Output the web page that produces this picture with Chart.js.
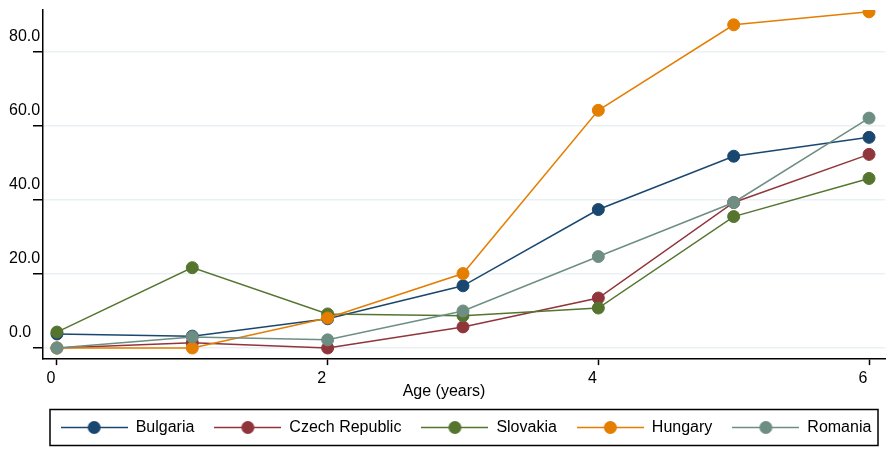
<!DOCTYPE html>
<html>
<head>
<meta charset="utf-8">
<script src="https://cdn.jsdelivr.net/npm/chart.js@4/dist/chart.umd.min.js"></script>
<style>
  html, body { margin: 0; padding: 0; background: #fff; }
  #wrap { width: 896px; height: 468px; }
</style>
</head>
<body>
<div id="wrap"><canvas id="chart" width="896" height="468"></canvas></div>
<script>
const ages = [0, 1, 2, 3, 4, 5, 6];
const countries = ['Bulgaria', 'Czech Republic', 'Slovakia', 'Hungary', 'Romania'];
const colors = ['#1a476f', '#90353b', '#55752f', '#e37e00', '#6e8e84'];

const bulgaria = [3.8, 3.2, 7.9, 16.8, 37.4, 51.8, 56.9];
const czech    = [0.0, 1.4, 0.0, 5.7, 13.5, 39.3, 52.3];
const slovakia = [4.3, 21.7, 9.2, 8.7, 10.8, 35.5, 45.8];
const hungary  = [0.0, 0.0, 8.1, 20.1, 64.2, 87.3, 90.8];
const romania  = [0.0, 3.0, 2.2, 10.0, 24.7, 39.3, 62.1];

const xTicks = [0, 2, 4, 6];
const yTicks = [0, 20, 40, 60, 80];

const series = [bulgaria, czech, slovakia, hungary, romania];
const FONT = { family: "'Liberation Sans', Arial, sans-serif", size: 16 };

// legend marker: short line with a dot in the middle
function legendIcon(color) {
    const c = document.createElement('canvas');
    c.width = 67;
    c.height = 15;
    const g = c.getContext('2d');
    g.strokeStyle = color;
    g.lineWidth = 1.5;
    g.beginPath();
    g.moveTo(0, 7.5);
    g.lineTo(67, 7.5);
    g.stroke();
    g.fillStyle = color;
    g.beginPath();
    g.arc(33.5, 7.5, 6.5, 0, Math.PI * 2);
    g.fill();
    return c;
}
const icons = colors.map(legendIcon);

const legendBox = {
    id: 'legendBox',
    afterLayout(chart) {
        // slide the legend row right so it sits under the plot area
        const lg = chart.legend;
        if (!lg) return;
        lg.left += 19;
        lg.right += 19;
    },
    afterDraw(chart) {
        const { ctx, chartArea, legend } = chart;
        if (!legend || !legend.legendHitBoxes.length) return;
        const hb = legend.legendHitBoxes[0];
        const cy = hb.top + hb.height / 2;
        ctx.save();
        ctx.strokeStyle = '#000';
        ctx.lineWidth = 1.5;
        ctx.strokeRect(chartArea.left + 7, cy - 18, chartArea.right - chartArea.left - 14, 36);
        ctx.restore();
    }
};

new Chart(document.getElementById('chart'), {
    type: 'line',
    plugins: [legendBox],
    data: {
        datasets: countries.map((name, i) => ({
            label: name,
            data: ages.map((a, j) => ({ x: a, y: series[i][j] })),
            borderColor: colors[i],
            backgroundColor: colors[i],
            pointBackgroundColor: colors[i],
            pointBorderColor: colors[i],
            borderWidth: 1.5,
            pointRadius: 6,
            pointBorderWidth: 1,
            pointHoverRadius: 6,
            tension: 0,
            // later series sit on top
            order: countries.length - i
        }))
    },
    options: {
        responsive: false,
        animation: false,
        layout: { padding: { top: 10, right: 11, bottom: 22.5, left: 9 } },
        scales: {
            x: {
                type: 'linear',
                min: -0.103,
                max: 6.118,
                afterBuildTicks: (s) => { s.ticks = xTicks.map(v => ({ value: v })); },
                border: { display: true, color: '#000', width: 1.5 },
                grid: { drawOnChartArea: false, drawTicks: true, tickLength: 6, tickColor: '#000', tickWidth: 1.5 },
                ticks: {
                    color: '#000',
                    font: FONT,
                    padding: 4,
                    labelOffset: -6,
                    maxRotation: 0,
                    callback: (v) => String(v)
                },
                title: {
                    display: true,
                    // trailing spaces nudge the title left, under the page centre
                    text: 'Age (years)' + ' '.repeat(9),
                    color: '#000',
                    font: FONT,
                    padding: { top: -10, bottom: -2 }
                }
            },
            y: {
                min: -3,
                max: 91.3,
                afterBuildTicks: (s) => { s.ticks = yTicks.map(v => ({ value: v })); },
                afterFit: (s) => { s.width = 34; },
                border: { display: true, color: '#000', width: 1.5 },
                grid: { color: '#e9f1f4', lineWidth: 1.5, drawTicks: true, tickLength: 10, tickColor: '#000', tickWidth: 1.5 },
                ticks: {
                    color: '#000',
                    font: FONT,
                    padding: 0,
                    crossAlign: 'far',
                    labelOffset: -15,
                    callback: (v) => v.toFixed(1)
                }
            }
        },
        plugins: {
            tooltip: { enabled: false },
            legend: {
                position: 'bottom',
                labels: {
                    color: '#000',
                    font: FONT,
                    usePointStyle: true,
                    pointStyleWidth: 67,
                    padding: 20,
                    sort: (a, b) => a.datasetIndex - b.datasetIndex,
                    generateLabels(chart) {
                        return Chart.defaults.plugins.legend.labels.generateLabels(chart)
                            .map(item => ({ ...item, pointStyle: icons[item.datasetIndex] }));
                    }
                }
            }
        }
    }
});
</script>
</body>
</html>
